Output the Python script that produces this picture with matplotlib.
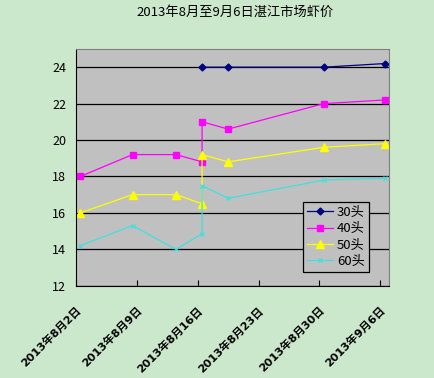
import numpy as np
import matplotlib
matplotlib.use("Agg")
import matplotlib.pyplot as plt
import matplotlib.dates as mdates
import pandas as pd

plt.rcParams['font.family'] = ['Noto Sans CJK SC', 'DejaVu Sans']

# dates of each observation (Aug 16 has two quotes)
dates = ['2013-08-02', '2013-08-08', '2013-08-13', '2013-08-16',
         '2013-08-16', '2013-08-19', '2013-08-30', '2013-09-06']
p30 = [np.nan, np.nan, np.nan, np.nan, 24.0, 24.0, 24.0, 24.2]
p40 = [18.0, 19.2, 19.2, 18.8, 21.0, 20.6, 22.0, 22.2]
p50 = [16.0, 17.0, 17.0, 16.5, 19.2, 18.8, 19.6, 19.8]
p60 = [14.2, 15.3, 14.0, 14.85, 17.5, 16.8, 17.8, 17.9]

tick_dates = ['2013-08-02', '2013-08-09', '2013-08-16',
              '2013-08-23', '2013-08-30', '2013-09-06']
tick_labels = ['2013年8月2日', '2013年8月9日', '2013年8月16日',
               '2013年8月23日', '2013年8月30日', '2013年9月6日']

# points sit in the middle of their day, like an Excel date axis
x = mdates.date2num(pd.to_datetime(dates)) + 0.5
xt = mdates.date2num(pd.to_datetime(tick_dates))

bg = '#cce8cc'
fig = plt.figure(figsize=(4.35, 3.78), dpi=100, facecolor=bg)
ax = fig.add_axes([0.1747, 0.2442, 0.7195, 0.6262])
ax.set_facecolor('#c0c0c0')

ax.plot(x, p30, color='#000080', marker='D', ms=3.5, lw=0.9, label='30头')
ax.plot(x, p40, color='#ff00ff', marker='s', ms=5, lw=0.9, label='40头')
ax.plot(x, p50, color='#ffff00', marker='^', ms=5.5, lw=0.9, label='50头')
ax.plot(x, p60, color='#40e0e0', marker='x', ms=3.5, mew=0.9, lw=0.9, label='60头')

ax.set_ylim(12, 25)
ax.set_yticks([12, 14, 16, 18, 20, 22, 24])
ax.yaxis.grid(True, color='black', lw=0.9)
ax.set_axisbelow(True)
ax.set_xlim(xt[0], mdates.date2num(pd.Timestamp('2013-09-07')))
ax.set_xticks(xt)
ax.set_xticklabels(tick_labels, rotation=45, ha='right', va='top',
                   rotation_mode='anchor', fontsize=8, fontweight='bold',
                   family=['DejaVu Sans', 'Noto Sans CJK SC'])
ax.tick_params(axis='x', direction='in', length=4, pad=14)
ax.tick_params(axis='y', length=0, pad=7, labelsize=9)

for s in ['top', 'right']:
    ax.spines[s].set_color('#808080')
for s in ['left', 'bottom']:
    ax.spines[s].set_color('black')

fig.suptitle('2013年8月至9月6日湛江市场虾价', fontsize=9.5, y=0.985, x=0.54)

leg = ax.legend(loc='lower right', bbox_to_anchor=(0.936, 0.058), fontsize=9.5,
                fancybox=False, framealpha=1, edgecolor='black',
                facecolor='#c0c0c0', borderpad=0.3, labelspacing=0.25,
                handlelength=2.0, handletextpad=0.3, borderaxespad=0)
leg.get_frame().set_linewidth(0.9)

fig.savefig('out.png', dpi=100, facecolor=bg)
